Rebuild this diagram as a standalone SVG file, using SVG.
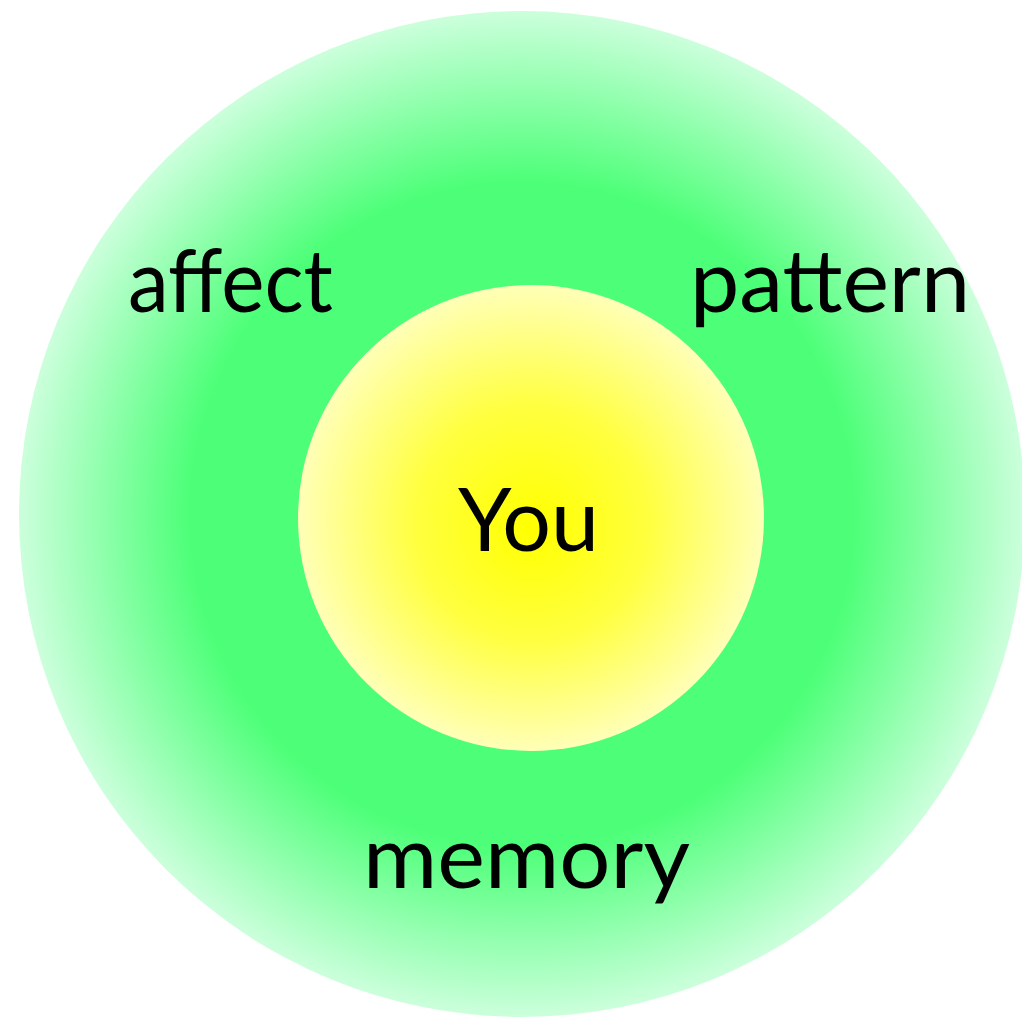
<svg xmlns="http://www.w3.org/2000/svg" width="1022" height="1021" viewBox="0 0 1022 1021">
<style>
text{font-family:"Lato","Open Sans","Liberation Sans",sans-serif;font-size:88px;fill:#000}
</style>
<defs>
<radialGradient id="g" cx="522" cy="514" r="503" gradientUnits="userSpaceOnUse">
<stop offset="0" stop-color="#4dff78"/>
<stop offset="0.66" stop-color="#4dff78"/>
<stop offset="1" stop-color="#ccffdc"/>
</radialGradient>
<radialGradient id="y" cx="531" cy="518" r="233" fx="533" fy="528" gradientUnits="userSpaceOnUse">
<stop offset="0" stop-color="#ffff00"/>
<stop offset="0.5" stop-color="#ffff40"/>
<stop offset="1" stop-color="#ffffb8"/>
</radialGradient>
</defs>
<rect width="1022" height="1021" fill="#fff"/>
<g id="outer"><circle cx="522" cy="514" r="503" fill="url(#g)"/></g>
<g id="inner"><circle cx="531" cy="518" r="233" fill="url(#y)"/></g>
<g id="connectors"/>
<g id="labels">
<text id="you" x="458" y="551" textLength="141" lengthAdjust="spacingAndGlyphs" font-size="92">You</text>
<text id="affect" x="128" y="312" textLength="205" lengthAdjust="spacingAndGlyphs">affect</text>
<text id="pattern" x="690" y="312" textLength="280" lengthAdjust="spacingAndGlyphs">pattern</text>
<text id="memory" x="363" y="888" textLength="327" lengthAdjust="spacingAndGlyphs">memory</text>
</g>
</svg>
